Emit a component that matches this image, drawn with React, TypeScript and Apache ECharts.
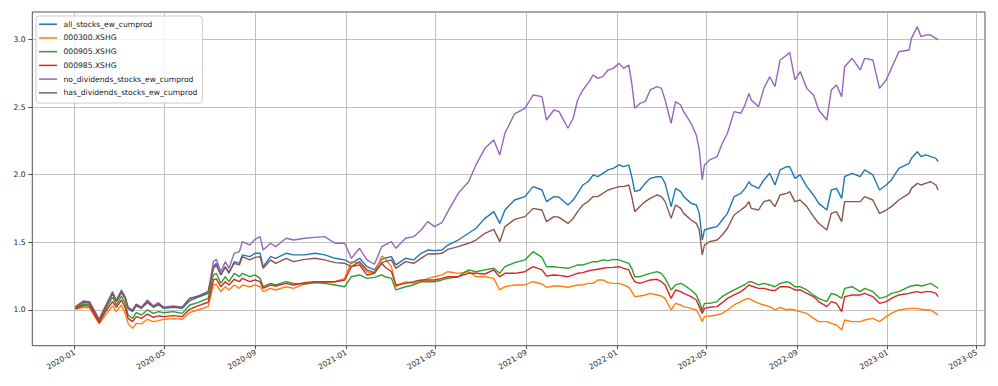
import React, { useEffect, useRef } from 'react';
import * as echarts from 'echarts';

const dates = [
  '2020-01-02','2020-01-13','2020-01-21','2020-02-03','2020-02-10','2020-02-21','2020-02-26','2020-03-04','2020-03-09','2020-03-13',
  '2020-03-19','2020-03-24','2020-03-31','2020-04-08','2020-04-16','2020-04-23','2020-04-30','2020-05-13','2020-05-25','2020-06-04',
  '2020-06-15','2020-06-29','2020-07-06','2020-07-10','2020-07-16','2020-07-22','2020-07-27','2020-08-03','2020-08-10','2020-08-14',
  '2020-08-24','2020-08-31','2020-09-07','2020-09-11','2020-09-21','2020-09-28','2020-10-12','2020-10-22',
  '2020-11-06','2020-11-20','2020-12-03','2020-12-17','2020-12-30','2021-01-08','2021-01-19','2021-01-29','2021-02-08','2021-02-18',
  '2021-02-22','2021-03-03','2021-03-09','2021-03-22','2021-04-02','2021-04-12','2021-04-21','2021-04-30','2021-05-10','2021-05-18',
  '2021-06-01','2021-06-15','2021-06-25','2021-07-07','2021-07-19','2021-07-27','2021-08-03','2021-08-16',
  '2021-08-30','2021-09-10','2021-09-22','2021-09-28','2021-10-08','2021-10-15','2021-10-27','2021-11-03','2021-11-09','2021-11-16',
  '2021-11-23','2021-11-30','2021-12-06','2021-12-13','2021-12-20','2021-12-27','2022-01-04','2022-01-10','2022-01-17','2022-01-21',
  '2022-01-25','2022-02-01','2022-02-08','2022-02-15','2022-02-24','2022-03-02','2022-03-07','2022-03-15','2022-03-21','2022-03-28',
  '2022-04-01','2022-04-11','2022-04-18','2022-04-22','2022-04-26','2022-04-29','2022-05-06','2022-05-16','2022-05-23','2022-05-30',
  '2022-06-08','2022-06-17','2022-06-23','2022-06-28',
  '2022-07-01','2022-07-11','2022-07-18','2022-07-26','2022-08-02','2022-08-09','2022-08-18','2022-08-22','2022-08-29','2022-09-05',
  '2022-09-14','2022-09-23','2022-09-30','2022-10-11','2022-10-17','2022-10-24','2022-10-31','2022-11-04','2022-11-14','2022-11-25',
  '2022-12-01','2022-12-12','2022-12-21','2022-12-30','2023-01-06','2023-01-16','2023-01-30','2023-02-02','2023-02-10','2023-02-15',
  '2023-02-21','2023-02-28','2023-03-07','2023-03-10',
];

const allStocks = [
  1.017,1.057,1.052,0.921,1.005,1.118,1.062,1.128,1.086,1.012,
  0.988,1.030,1.012,1.054,1.020,1.037,1.012,1.020,1.012,1.069,
  1.094,1.123,1.320,1.345,1.259,1.320,1.271,1.357,1.345,1.407,
  1.394,1.419,1.419,1.320,1.394,1.382,1.419,1.407,
  1.407,1.419,1.407,1.382,1.370,1.345,1.382,1.320,1.296,1.374,
  1.382,1.394,1.333,1.382,1.370,1.419,1.443,1.439,1.443,1.480,
  1.517,1.567,1.604,1.677,1.727,1.640,1.739,1.813,
  1.838,1.912,1.887,1.801,1.838,1.833,1.776,1.813,1.862,1.924,
  1.948,1.998,1.985,2.010,2.035,2.047,2.072,2.059,2.072,1.985,
  1.875,1.887,1.936,1.973,1.985,1.985,1.936,1.764,1.899,1.875,
  1.838,1.788,1.776,1.714,1.517,1.591,1.604,1.616,1.665,1.714,
  1.838,1.862,1.900,1.948,
  1.924,1.899,1.961,2.010,1.924,2.035,2.059,2.059,1.973,1.998,
  1.912,1.850,1.788,1.739,1.887,1.899,1.825,1.985,2.010,1.985,
  2.035,1.998,1.887,1.924,1.961,2.047,2.084,2.121,2.170,2.133,
  2.146,2.133,2.121,2.096,
];

const hs300 = [
  1.005,1.020,1.015,0.897,0.951,1.030,0.988,1.037,0.975,0.901,
  0.864,0.901,0.897,0.931,0.914,0.921,0.931,0.936,0.931,0.980,
  1.000,1.025,1.185,1.190,1.136,1.172,1.148,1.185,1.160,1.185,
  1.172,1.185,1.172,1.136,1.160,1.148,1.172,1.160,
  1.192,1.202,1.202,1.209,1.234,1.357,1.345,1.283,1.271,1.399,
  1.382,1.320,1.172,1.209,1.197,1.209,1.234,1.246,1.259,1.283,
  1.271,1.283,1.246,1.246,1.234,1.148,1.172,1.185,
  1.185,1.209,1.192,1.168,1.177,1.177,1.168,1.177,1.185,1.185,
  1.197,1.197,1.222,1.222,1.202,1.197,1.197,1.185,1.168,1.136,
  1.099,1.103,1.111,1.123,1.111,1.103,1.086,1.000,1.049,1.037,
  1.025,1.012,1.000,0.963,0.914,0.951,0.956,0.963,0.975,1.000,
  1.037,1.062,1.079,1.086,
  1.074,1.049,1.037,1.025,1.000,1.020,1.000,1.005,1.000,0.988,
  0.975,0.938,0.914,0.914,0.901,0.889,0.852,0.926,0.914,0.914,
  0.926,0.938,0.914,0.951,0.975,1.000,1.012,1.012,1.012,1.005,
  1.000,1.000,0.975,0.963,
];

const zz500 = [
  1.012,1.044,1.040,0.914,0.988,1.094,1.037,1.103,1.049,0.963,
  0.938,0.980,0.963,1.000,0.975,0.988,0.980,0.988,0.975,1.037,
  1.054,1.086,1.259,1.270,1.197,1.246,1.209,1.271,1.246,1.271,
  1.246,1.259,1.234,1.172,1.197,1.185,1.209,1.197,
  1.192,1.202,1.197,1.185,1.172,1.246,1.259,1.234,1.241,1.259,
  1.246,1.234,1.148,1.172,1.185,1.209,1.209,1.209,1.222,1.234,
  1.246,1.296,1.283,1.296,1.308,1.271,1.320,1.350,
  1.370,1.431,1.389,1.320,1.320,1.315,1.308,1.320,1.333,1.333,
  1.345,1.357,1.357,1.370,1.365,1.374,1.370,1.357,1.345,1.308,
  1.246,1.246,1.259,1.271,1.283,1.271,1.234,1.148,1.185,1.197,
  1.185,1.148,1.111,1.062,1.000,1.049,1.049,1.062,1.099,1.123,
  1.148,1.172,1.190,1.209,
  1.209,1.185,1.197,1.185,1.172,1.197,1.209,1.202,1.172,1.172,
  1.148,1.111,1.086,1.062,1.123,1.111,1.086,1.160,1.172,1.136,
  1.160,1.136,1.086,1.099,1.123,1.136,1.172,1.177,1.185,1.177,
  1.185,1.197,1.172,1.160,
];

const zz985 = [
  1.010,1.032,1.028,0.906,0.975,1.062,1.020,1.074,1.020,0.938,
  0.914,0.951,0.938,0.970,0.946,0.956,0.951,0.958,0.951,1.005,
  1.030,1.057,1.222,1.230,1.172,1.209,1.185,1.227,1.209,1.234,
  1.209,1.222,1.209,1.160,1.185,1.177,1.197,1.185,
  1.202,1.209,1.209,1.209,1.222,1.320,1.333,1.259,1.271,1.345,
  1.320,1.283,1.185,1.197,1.209,1.222,1.222,1.222,1.234,1.246,
  1.246,1.271,1.271,1.266,1.296,1.246,1.271,1.271,
  1.283,1.320,1.296,1.251,1.259,1.256,1.246,1.259,1.271,1.276,
  1.288,1.296,1.301,1.308,1.313,1.315,1.320,1.308,1.296,1.246,
  1.209,1.197,1.209,1.222,1.227,1.209,1.185,1.086,1.148,1.136,
  1.123,1.099,1.074,1.025,0.975,1.012,1.020,1.025,1.054,1.086,
  1.111,1.136,1.160,1.185,
  1.177,1.160,1.160,1.148,1.143,1.172,1.172,1.168,1.148,1.148,
  1.123,1.099,1.062,1.025,1.062,1.049,0.988,1.099,1.111,1.111,
  1.123,1.099,1.049,1.062,1.086,1.111,1.123,1.128,1.136,1.128,
  1.136,1.136,1.123,1.099,
];

const noDividends = [
  1.025,1.067,1.062,0.931,1.012,1.136,1.074,1.148,1.099,1.020,
  1.000,1.044,1.020,1.074,1.030,1.054,1.020,1.030,1.020,1.086,
  1.103,1.136,1.357,1.374,1.283,1.357,1.308,1.419,1.431,1.505,
  1.480,1.522,1.542,1.443,1.493,1.468,1.530,1.517,
  1.530,1.537,1.542,1.493,1.493,1.382,1.456,1.370,1.338,1.468,
  1.480,1.505,1.456,1.530,1.542,1.591,1.653,1.616,1.645,1.727,
  1.862,1.948,2.072,2.195,2.256,2.146,2.306,2.450,
  2.491,2.589,2.577,2.404,2.478,2.466,2.343,2.417,2.552,2.626,
  2.675,2.737,2.712,2.725,2.774,2.786,2.823,2.786,2.811,2.675,
  2.491,2.527,2.540,2.626,2.651,2.638,2.552,2.380,2.540,2.515,
  2.466,2.380,2.293,2.183,1.961,2.072,2.109,2.133,2.232,2.306,
  2.466,2.454,2.520,2.601,
  2.552,2.503,2.638,2.724,2.651,2.848,2.885,2.902,2.700,2.762,
  2.638,2.589,2.478,2.404,2.626,2.663,2.577,2.798,2.860,2.774,
  2.860,2.848,2.638,2.700,2.786,2.909,2.922,3.008,3.094,3.020,
  3.032,3.032,3.008,2.996,
];

const hasDividends = [
  1.020,1.062,1.057,0.926,1.008,1.123,1.067,1.136,1.090,1.015,
  0.995,1.040,1.015,1.065,1.025,1.045,1.017,1.025,1.020,1.086,
  1.100,1.136,1.308,1.330,1.259,1.315,1.280,1.345,1.333,1.394,
  1.370,1.389,1.394,1.308,1.370,1.345,1.382,1.357,
  1.374,1.382,1.370,1.350,1.345,1.320,1.357,1.296,1.276,1.350,
  1.357,1.370,1.308,1.357,1.345,1.382,1.414,1.414,1.419,1.448,
  1.468,1.493,1.517,1.567,1.596,1.505,1.616,1.670,
  1.690,1.751,1.739,1.653,1.690,1.685,1.640,1.677,1.727,1.776,
  1.801,1.838,1.838,1.862,1.887,1.899,1.912,1.912,1.924,1.838,
  1.727,1.764,1.801,1.825,1.850,1.838,1.801,1.677,1.776,1.751,
  1.714,1.665,1.640,1.591,1.407,1.480,1.505,1.517,1.554,1.604,
  1.702,1.739,1.764,1.801,
  1.751,1.739,1.801,1.813,1.764,1.850,1.862,1.875,1.801,1.813,
  1.764,1.690,1.641,1.591,1.714,1.727,1.653,1.801,1.801,1.801,
  1.838,1.813,1.714,1.739,1.764,1.813,1.862,1.899,1.936,1.924,
  1.936,1.948,1.924,1.887,
];

const seriesNames = [
  'all_stocks_ew_cumprod',
  '000300.XSHG',
  '000905.XSHG',
  '000985.XSHG',
  'no_dividends_stocks_ew_cumprod',
  'has_dividends_stocks_ew_cumprod',
];
const seriesValues = [allStocks, hs300, zz500, zz985, noDividends, hasDividends];
const seriesColors = ['#1f77b4', '#ff7f0e', '#2ca02c', '#d62728', '#9467bd', '#8c564b'];

const xTickLabels = ['2020-01', '2020-05', '2020-09', '2021-01', '2021-05', '2021-09', '2022-01', '2022-05', '2022-09', '2023-01', '2023-05'];
const yTickValues = [1.0, 1.5, 2.0, 2.5, 3.0];

const X_MIN = '2019-11-04T20:10:00Z';
const X_MAX = '2023-05-12T05:00:00Z';
const Y_MIN = 0.736;
const Y_MAX = 3.2025;

const toTs = (s: string) => Date.parse(s.length === 10 ? s + 'T00:00:00Z' : s);
const FONT = "'DejaVu Sans', sans-serif";
const INK = '#262626';

export default function App() {
  const ref = useRef<HTMLDivElement>(null);
  useEffect(() => {
    if (!ref.current) return;
    const chart = echarts.init(ref.current, null, { renderer: 'svg' });
    const xTicks = xTickLabels.map((l) => toTs(l + '-01'));
    chart.setOption({
      animation: false,
      backgroundColor: '#ffffff',
      textStyle: { fontFamily: FONT },
      grid: {
        left: 32.3,
        right: 13,
        top: 12,
        bottom: 40.3,
        show: true,
        borderColor: INK,
        borderWidth: 0.8,
        backgroundColor: 'transparent',
      },
      legend: {
        orient: 'vertical',
        left: 36,
        top: 16,
        icon: 'rect',
        itemWidth: 18,
        itemHeight: 1.5,
        itemGap: 5.73,
        padding: [4.2, 5, 6.2, 3],
        backgroundColor: 'rgba(255,255,255,0.8)',
        borderColor: '#cccccc',
        borderWidth: 1,
        borderRadius: 3,
        selectedMode: false,
        textStyle: { fontSize: 7.6, color: '#1a1a1a', fontFamily: FONT, padding: [0, 0, 0, 1.5] },
        data: seriesNames,
      },
      xAxis: {
        type: 'value',
        min: toTs(X_MIN),
        max: toTs(X_MAX),
        scale: true,
        axisLine: { show: false },
        axisTick: {
          show: true,
          length: 3.5,
          customValues: xTicks,
          lineStyle: { color: INK, width: 0.8 },
        },
        axisLabel: {
          customValues: xTicks,
          rotate: 30,
          fontSize: 7.6,
          color: INK,
          margin: 6,
          hideOverlap: false,
          formatter: (v: number) => {
            const i = xTicks.indexOf(v);
            return i >= 0 ? xTickLabels[i] : '';
          },
        },
        splitLine: { show: true, lineStyle: { color: '#b0b0b0', width: 0.8 } },
      },
      yAxis: {
        type: 'value',
        min: Y_MIN,
        max: Y_MAX,
        axisLine: { show: false },
        axisTick: {
          show: true,
          length: 4,
          customValues: yTickValues,
          lineStyle: { color: INK, width: 0.8 },
        },
        axisLabel: {
          customValues: yTickValues,
          fontSize: 7.6,
          color: INK,
          margin: 6.6,
          formatter: (v: number) => v.toFixed(1),
        },
        splitLine: { show: true, lineStyle: { color: '#b0b0b0', width: 0.8 } },
      },
      series: seriesNames.map((name, k) => ({
        name,
        type: 'line',
        symbol: 'none',
        showSymbol: false,
        silent: true,
        data: dates.map((d, i) => [toTs(d), seriesValues[k][i]]),
        lineStyle: { color: seriesColors[k], width: 1.4 },
        itemStyle: { color: seriesColors[k] },
        emphasis: { disabled: true },
      })),
    });
    return () => chart.dispose();
  }, []);
  return (
    <div
      ref={ref}
      style={{ position: 'absolute', left: 0, top: 0, width: 998, height: 386 }}
    />
  );
}
